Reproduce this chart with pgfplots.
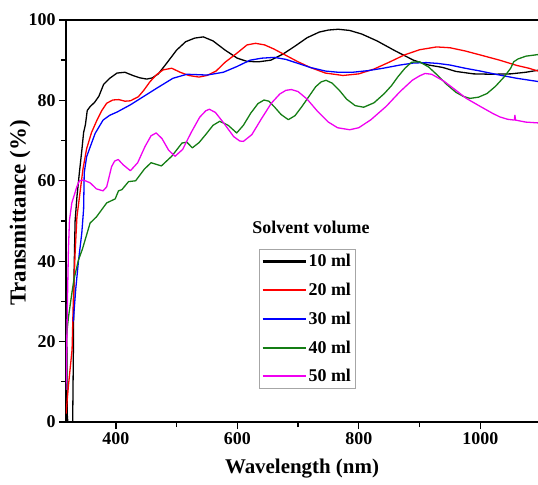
\documentclass[border=0pt]{standalone}
\usepackage{fontspec}
\setmainfont{Liberation Serif}
\usepackage{pgfplots}
\pgfplotsset{compat=1.18}
\definecolor{cgreen}{RGB}{20,125,20}
\definecolor{cmag}{RGB}{240,0,240}

\begin{document}
\begin{tikzpicture}
\begin{axis}[
    scale only axis,
    width=472bp, height=402bp,
    xmin=318, xmax=1095, ymin=0, ymax=100,
    axis x line*=box, axis y line*=left,
    xtick pos=bottom, ytick pos=left,
    xtick={400,600,800,1000}, ytick={0,20,40,60,80,100},
    minor x tick num=1, minor y tick num=1,
    tick align=outside,
    major tick length=7bp, minor tick length=5bp,
    axis line style={line width=1.6pt},
    every tick/.style={black, line width=1.4pt},
    /pgf/number format/assume math mode=true,
    /pgf/number format/1000 sep={},
    tick label style={font=\bfseries\fontsize{18}{20}\selectfont},
    xlabel={Wavelength (nm)},
    ylabel={Transmittance (\%)},
    xlabel style={font=\bfseries\fontsize{21}{24}\selectfont, at={(rel axis cs:0.5,0)}, anchor=north, inner sep=0pt, yshift=-37bp},
    ylabel style={font=\bfseries\fontsize{23}{26}\selectfont, at={(rel axis cs:0,0.52)}, anchor=center, inner sep=0pt, yshift=46bp},
    legend style={at={(rel axis cs:0.409,0.430)}, anchor=north west, draw=gray!70, line width=0.8pt,
        font=\bfseries\fontsize{18}{20}\selectfont, row sep=10.8bp, inner xsep=2bp, inner ysep=3bp},
    legend cell align=left,
    legend image code/.code={\draw[#1,line width=2.2pt] (0bp,0bp) -- (43bp,0bp);},
    every axis plot/.append style={line width=1.3pt, line join=round},
]
% 10 ml
\addplot[black] coordinates {
(319,30) (320,2) (321,0) (329,0) (330,15) (331,35) (333,50) (336,56) (340,62) (344,67.5) (347,72) (350,74)
(353,77.5) (358,78.5) (365,79.5) (372,81) (380,84) (390,85.5) (402,86.8) (415,87) (428,86.2) (440,85.6)
(451,85.3) (460,85.6) (470,86.6) (484,89.3) (500,92.5) (515,94.6) (530,95.5) (544,95.8) (560,94.8)
(580,92.5) (600,90.5) (616,89.7) (635,89.6) (655,90) (675,91.5) (695,93.5) (715,95.6) (735,97) (750,97.5)
(766,97.7) (785,97.4) (805,96.5) (830,94.8) (859,92.4) (890,90) (915,88.8) (938,88.2) (960,87.2) (989,86.6)
(1020,86.5) (1050,86.6) (1075,87) (1095,87.5)};
% 20 ml
\addplot[red] coordinates {
(318,2) (322,9) (328,18) (330,30) (333,42) (336,51) (341,57) (346,63) (352,68) (360,72) (369,75.1) (377,77.5)
(385,79.3) (395,80.1) (405,80.2) (415,79.8) (424,79.9) (437,80.9) (446,82.5) (456,84.6) (467,86.4) (478,87.6)
(492,88) (506,87) (520,86.2) (537,85.8) (550,86.2) (565,87.3) (580,89.5) (599,91.7) (616,93.8) (630,94.2)
(645,93.8) (660,92.8) (680,91.2) (700,89.6) (720,88.2) (745,86.8) (774,86.2) (800,86.6) (825,87.8) (850,89.5)
(875,91.3) (900,92.6) (928,93.3) (950,93.1) (975,92.3) (1000,91.3) (1032,90) (1060,88.7) (1080,88) (1095,87.3)};
% 30 ml
\addplot[blue] coordinates {
(330,25) (334,33) (338.5,40) (344,47) (347,53) (348,62) (352,66) (358,68.5) (366,71.8) (379,75.1) (390,76.3)
(402,77.1) (424,78.9) (445,80.9) (467,83) (494,85.5) (517,86.5) (535,86.4) (550,86.3) (577,87) (599,88.4)
(621,90) (640,90.5) (661,90.7) (680,90.2) (700,89.2) (720,88.2) (745,87.3) (766,87) (790,87) (815,87.4)
(840,88) (868,88.8) (890,89.3) (911,89.4) (930,89.2) (950,88.8) (975,88) (1000,87.3) (1032,86.3) (1060,85.5)
(1095,84.7)};
% 40 ml
\addplot[cgreen] coordinates {
(318,20) (322,26) (327.6,32) (331,35.4) (338.5,40.3) (345,43) (357.7,49.5) (368,51) (385,54.5) (399,55.5)
(404.4,57.5) (410,57.8) (421,59.8) (432.6,60) (447,62.9) (458,64.5) (475,63.7) (492,66.1) (509,69.4)
(517,69.6) (526,68.2) (537,69.5) (548,71.5) (560,73.8) (571,74.8) (585,73.8) (599,71.9) (610,73.8) (622,76.8)
(634,79.2) (644,80.1) (652,79.8) (661,78.4) (672,76.5) (684,75.2) (695,76.2) (706,78.4) (718,81) (729,83.4)
(738,84.6) (746,85) (756,84.3) (768,82.5) (780,80.3) (794,78.7) (808,78.3) (825,79.4) (842,81.7) (854,83.7)
(864,85.8) (876,88) (887,89.5) (900,89.6) (915,88.3) (930,86.2) (943,84.2) (960,82) (972,81) (983,80.5)
(997,80.8) (1011,81.7) (1025,83.5) (1039,85.8) (1050,88) (1055,89.6) (1062,90.3) (1075,91) (1095,91.4)};
% 50 ml
\addplot[cmag] coordinates {
(318,8) (319.4,21) (320.4,30.3) (322,42.8) (323.7,50.2) (327.6,54.5) (335.8,58.5) (340,60) (346.7,60.2)
(357.7,59.5) (368,58) (379,57.5) (385,58.5) (393,63.5) (398,64.9) (404,65.3) (412,64) (424,62.5) (436,64.5)
(448,68.5) (458,71.2) (466.5,71.9) (476,70.5) (487,67.6) (497.5,66.1) (510,67.8) (524,72) (538,75.8) (548,77.4)
(554,77.8) (564,77) (578,74.3) (594,71) (604,69.9) (610,69.8) (624,71.5) (640,75.5) (656,79.3) (670,81.6)
(680,82.5) (689,82.7) (700,82.2) (715,80.3) (732,77.3) (750,74.6) (765,73.2) (785,72.7) (800,73.2) (820,75.2)
(845,78.5) (868,82.2) (888,85) (900,86.1) (909,86.7) (920,86.5) (940,84.8) (960,82.5) (977,80.5) (1000,78.5)
(1020,76.8) (1032,75.9) (1045,75.3) (1056,75.1) (1057,76.3) (1058,75.1) (1075,74.6) (1095,74.4)};
\legend{10 ml, 20 ml, 30 ml, 40 ml, 50 ml}
\node[font=\bfseries\fontsize{18}{20}\selectfont, inner sep=0pt] at (rel axis cs:0.519,0.485) {Solvent volume};
\coordinate (bl) at (rel axis cs:0,0);
\coordinate (tr) at (rel axis cs:1,1);
\end{axis}
\pgfresetboundingbox
\useasboundingbox ([shift={(-66bp,-63bp)}]bl) rectangle ([shift={(0bp,20bp)}]tr);
\end{tikzpicture}
\end{document}
